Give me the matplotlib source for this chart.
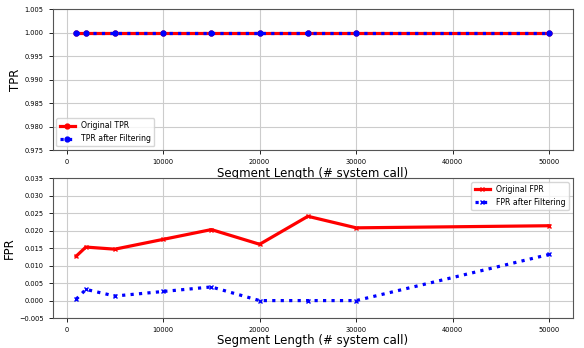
import numpy as np
import matplotlib
matplotlib.use('Agg')
import matplotlib.pyplot as plt

# segment lengths (# system calls)
seg_len = [1000, 2000, 5000, 10000, 15000, 20000, 25000, 30000, 50000]

tpr_orig = [1.0, 1.0, 1.0, 1.0, 1.0, 1.0, 1.0, 1.0, 1.0]
tpr_filt = [1.0, 1.0, 1.0, 1.0, 1.0, 1.0, 1.0, 1.0, 1.0]

fpr_orig = [0.0127, 0.0153, 0.0147, 0.0175, 0.0203, 0.0161, 0.0241, 0.0208, 0.0214]
fpr_filt = [0.0004, 0.0032, 0.0013, 0.0026, 0.0039, 0.0000, 0.0000, 0.0000, 0.0132]

fig = plt.figure(figsize=(5.84, 3.48), dpi=100)

# TPR
ax1 = fig.add_axes([0.090, 0.568, 0.891, 0.406])
ax1.plot(seg_len, tpr_orig, c='r', linestyle='-', linewidth=2.3, marker='o',
         markersize=3.5, label='Original TPR')
ax1.plot(seg_len, tpr_filt, c='b', linestyle=':', linewidth=2.3, marker='o',
         markersize=3.5, label='TPR after Filtering')
ax1.grid(color='#cccccc', linewidth=0.8)
ax1.set_ylim(0.975, 1.005)
ax1.set_yticks(np.arange(0.975, 1.0051, 0.005))
ax1.set_xticks(np.arange(0, 50001, 10000))
ax1.tick_params(labelsize=4.8, length=3, width=0.6)
ax1.set_xlabel('Segment Length (# system call)', fontsize=8.5, labelpad=1)
ax1.set_ylabel('TPR', fontsize=8.5, labelpad=2)
ax1.legend(loc='lower left', fontsize=5.6)

# FPR
ax2 = fig.add_axes([0.090, 0.086, 0.891, 0.402])
ax2.plot(seg_len, fpr_orig, c='r', linestyle='-', linewidth=2.3, marker='x',
         markersize=3, label='Original FPR')
ax2.plot(seg_len, fpr_filt, c='b', linestyle=':', linewidth=2.3, marker='x',
         markersize=3, label='FPR after Filtering')
ax2.grid(color='#cccccc', linewidth=0.8)
ax2.set_ylim(-0.005, 0.035)
ax2.set_yticks(np.arange(-0.005, 0.0351, 0.005))
ax2.set_xticks(np.arange(0, 50001, 10000))
ax2.tick_params(labelsize=4.8, length=3, width=0.6)
ax2.set_xlabel('Segment Length (# system call)', fontsize=8.5, labelpad=1)
ax2.set_ylabel('FPR', fontsize=8.5, labelpad=2)
ax2.legend(loc='upper right', fontsize=5.6)

for ax in (ax1, ax2):
    for s in ax.spines.values():
        s.set_color('#555555')

fig.savefig('out.png', dpi=100)
